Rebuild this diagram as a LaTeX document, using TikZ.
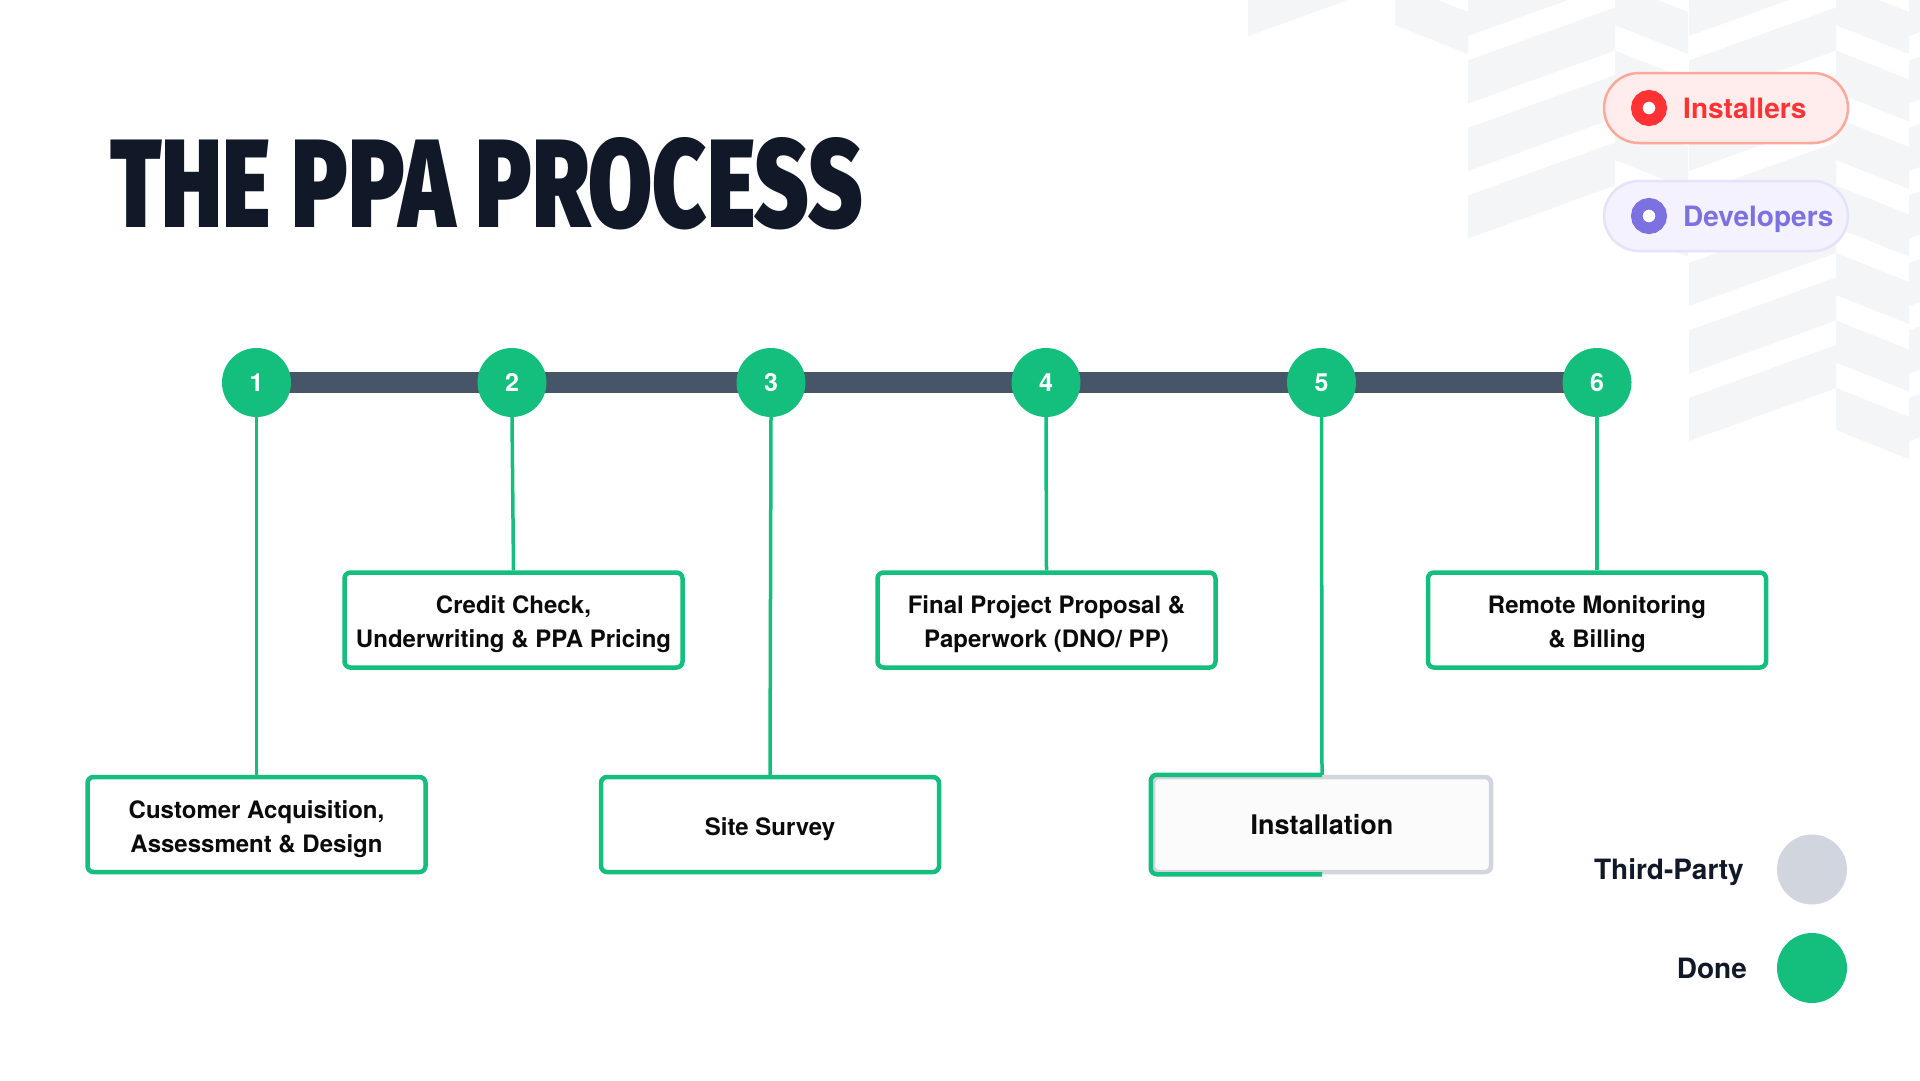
\documentclass[tikz,border=0pt]{standalone}
\usepackage{fontspec}
\setmainfont{TeX Gyre Heros}
\newfontfamily\titlefont{Fira Sans Black}
\usepackage{graphicx}
\usetikzlibrary{backgrounds}
\definecolor{gr}{HTML}{14BE7D}
\definecolor{barc}{HTML}{475569}
\definecolor{ttl}{HTML}{111827}
\definecolor{bgp}{HTML}{F4F5F7}
\definecolor{tpg}{HTML}{D1D5DE}
\definecolor{redc}{HTML}{FF3333}
\definecolor{redf}{HTML}{FFECEC}
\definecolor{redb}{HTML}{FCA89B}
\definecolor{purc}{HTML}{7C71E0}
\definecolor{purf}{HTML}{F3F2FE}
\definecolor{purb}{HTML}{E5E2FA}
\definecolor{txt}{HTML}{0B0B0B}
\newcommand\bxtext[1]{\raisebox{-4pt}[\height][\depth]{\begin{tabular}{@{}c@{}}#1\end{tabular}}}
\tikzset{
  stepc/.style={circle, fill=gr, minimum size=69pt, inner sep=0pt, text=white,
    font=\fontsize{25}{25}\selectfont\bfseries},
  stepbox/.style={draw=gr, line width=4.5pt, rounded corners=6pt, fill=white,
    minimum width=338pt, minimum height=95pt, inner sep=0pt, align=center,
    text=txt, font=\fontsize{24}{34}\selectfont\bfseries},
  conn/.style={draw=gr, line width=3.5pt},
  barline/.style={draw=barc, line width=21pt},
  pill/.style={rounded corners=35pt, line width=2.5pt, minimum width=244pt, minimum height=70pt, inner sep=0pt},
  ring/.style={circle, minimum size=24.5pt, line width=11.5pt, fill=white, inner sep=0pt},
  lgtxt/.style={inner sep=0pt, font=\fontsize{28}{28}\selectfont\bfseries},
  lgdot/.style={circle, minimum size=70pt, inner sep=0pt}
}
\begin{document}
\begin{tikzpicture}[x=1pt,y=-1pt]
\useasboundingbox (0,0) rectangle (1920,1080);
% background chevron pattern
\begin{scope}
\clip (0,0) rectangle (1920,1080);
\foreach \x/\n in {1248/0,1468/3,1689/6,1909/6}{
  \foreach \k in {0,...,\n}{
    \pgfmathsetmacro{\b}{-7+67.5*\k}
    \fill[bgp] (\x,\b) -- (\x+147,\b-53) -- (\x+147,\b-10) -- (\x,\b+43) -- cycle;
  }
}
\foreach \x/\n in {1395/0,1615/3,1836/6}{
  \foreach \k in {0,...,\n}{
    \pgfmathsetmacro{\a}{-17+67.5*\k}
    \fill[bgp] (\x,\a) -- (\x+73,\a+29) -- (\x+73,\a+71) -- (\x,\a+42) -- cycle;
  }
}
\end{scope}
% title
\node[anchor=north west, inner sep=0pt, text=ttl] (title) at (110,137)
  {\resizebox{752pt}{90pt}{\titlefont THE PPA PROCESS}};
% legend pills
\node[pill, draw=redb, fill=redf] (inst) at (1726,108) {};
\node[ring, draw=redc] (instdot) at (1649,108) {};
\node[lgtxt, anchor=base west, text=redc] (insttxt) at (1683,118) {Installers};
\node[pill, draw=purb, fill=purf] (dev) at (1726,216) {};
\node[ring, draw=purc] (devdot) at (1649,216) {};
\node[lgtxt, anchor=base west, text=purc] (devtxt) at (1683,226) {Developers};
% steps
\node[stepc] (c1) at (256.5,382.5) {1};
\node[stepc] (c2) at (512,382.5) {2};
\node[stepc] (c3) at (771,382.5) {3};
\node[stepc] (c4) at (1046,382.5) {4};
\node[stepc] (c5) at (1321.5,382.5) {5};
\node[stepc] (c6) at (1597,382.5) {6};
\begin{pgfonlayer}{background}
\fill[white] (0,0) rectangle (1920,1080);
\draw[barline] (c1.center) -- (c6.center);
\end{pgfonlayer}
% boxes
\node[stepbox] (b1) at (256.5,824.5) {\bxtext{Customer Acquisition,\\Assessment \& Design}};
\node[stepbox] (b2) at (513.5,620) {\bxtext{Credit Check,\\Underwriting \& PPA Pricing}};
\node[stepbox] (b3) at (770,824.5) {\bxtext{Site Survey}};
\node[stepbox] (b4) at (1046.5,620) {\bxtext{Final Project Proposal \&\\Paperwork (DNO/ PP)}};
\node[stepbox, draw=tpg, fill={rgb,255:red,251;green,251;blue,251}, font=\fontsize{27}{27}\selectfont\bfseries] (b5) at (1322,824.5) {Installation};
\draw[draw=gr, line width=4.5pt, rounded corners=6pt] (b5.north) -- (b5.north west) -- (b5.south west) -- (b5.south);
\node[stepbox] (b6) at (1597,620) {\bxtext{Remote Monitoring\\\& Billing}};
% connectors
\draw[conn] (c1.south) -- (b1.north);
\draw[conn] (c2.south) -- (b2.north);
\draw[conn] (c3.south) -- (b3.north);
\draw[conn] (c4.south) -- (b4.north);
\draw[conn] (c5.south) -- (b5.north);
\draw[conn] (c6.south) -- (b6.north);
% status legend
\node[lgdot, fill=tpg] (tpdot) at (1812,869.5) {};
\node[lgtxt, anchor=base east, text=ttl] (tptxt) at (1744,879.5) {Third-Party};
\node[lgdot, fill=gr] (donedot) at (1812,968) {};
\node[lgtxt, anchor=base east, text=ttl] (donetxt) at (1747,978) {Done};
\end{tikzpicture}
\end{document}
